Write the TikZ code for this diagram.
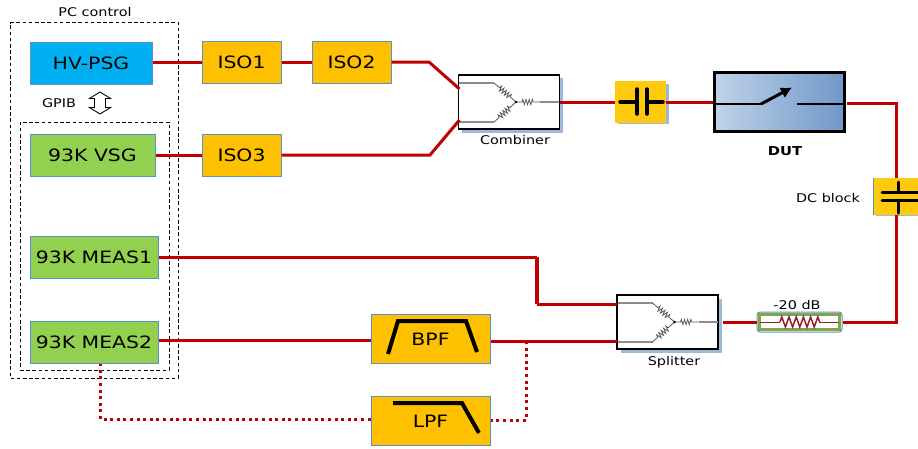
\documentclass[tikz,border=0pt]{standalone}
\usepackage{fontspec}
\setmainfont[FakeStretch=1.2]{DejaVu Sans}
\usetikzlibrary{decorations.pathmorphing,calc,arrows.meta}
\definecolor{lnk}{HTML}{C00000}
\definecolor{edge}{HTML}{5B8FCB}
\definecolor{org}{HTML}{FFC000}
\definecolor{capy}{HTML}{FFC90E}
\definecolor{grn}{HTML}{92D050}
\definecolor{cyn}{HTML}{00B0F0}
\definecolor{shad}{HTML}{9DB9DA}
\definecolor{dutl}{RGB}{192,211,233}
\definecolor{dutr}{RGB}{112,152,200}
\definecolor{attg}{RGB}{130,165,70}
\definecolor{attr}{RGB}{150,30,40}
\tikzset{
  box/.style={draw=edge,line width=1pt,inner sep=0pt,font=\fontsize{17}{18}\selectfont},
  instr/.style={box,minimum height=42pt},
  iso/.style={box,fill=org,minimum width=79pt,minimum height=42pt},
  filt/.style={box,fill=org,minimum width=119pt,minimum height=49pt},
  lbl/.style={font=\fontsize{12}{13}\selectfont,inner sep=0pt},
  rf/.style={draw=lnk,line width=3pt},
  rfdot/.style={draw=lnk,line width=3pt,dash pattern=on 3pt off 3.6pt},
  ctl/.style={draw=black,line width=.9pt,dash pattern=on 3.6pt off 2.6pt},
  net/.style={draw=black,line width=1.4pt,fill=white,minimum width=101pt,minimum height=54pt,inner sep=0pt},
  sym/.style={draw=black,line width=4pt,line join=miter},
  gray wire/.style={draw=black!45,line width=1.1pt},
  res/.style={draw=black!65,line width=.8pt,decorate,decoration={zigzag,amplitude=2.6pt,segment length=3.2pt,pre length=7pt,post length=7pt}},
  hybrid/.pic={
    \draw[gray wire] (-50,-19) -- (-15,-19);
    \draw[gray wire] (-50,20) -- (-15,20);
    \draw[res] (-15,-19) -- (7,0);
    \draw[res] (-15,20) -- (7,0);
    \draw[res,decoration={pre length=6pt,post length=6pt}] (7,0) -- (31,0);
    \draw[gray wire] (31,0) -- (50,0);
    \fill (7,0) circle (1.4pt);
  }
}
\begin{document}
\begin{tikzpicture}[x=1pt,y=-1pt]
\useasboundingbox (0,0) rectangle (918,448);
% control groups
\node[ctl,minimum width=168pt,minimum height=355.5pt,inner sep=0pt] (pc) at (94.5,200.25) {};
\node[ctl,minimum width=149pt,minimum height=248pt,inner sep=0pt] (inner) at (94.5,246) {};
\node[lbl] (pclabel) at (95,12) {PC control};
\node[lbl] (gpib) at (59,103) {GPIB};
\draw[line width=.9pt,fill=white] (100,92) -- (110.5,98.5) -- (105.5,98.5) -- (105.5,107.5) -- (110.5,107.5) -- (100,114) -- (89.5,107.5) -- (94.5,107.5) -- (94.5,98.5) -- (89.5,98.5) -- cycle;
% instruments
\node[instr,fill=cyn,minimum width=122pt] (hv) at (91,63) {HV-PSG};
\node[instr,fill=grn,minimum width=125pt] (vsg) at (92.5,155) {93K VSG};
\node[instr,fill=grn,minimum width=128pt] (m1) at (94,257) {93K MEAS1};
\node[instr,fill=grn,minimum width=128pt] (m2) at (94,342) {93K MEAS2};
% isolators
\node[iso] (iso1) at (241.5,62) {ISO1};
\node[iso] (iso2) at (351.5,62) {ISO2};
\node[iso] (iso3) at (241.5,155) {ISO3};
% combiner
\fill[shad] (462,78) rectangle (563,133);
\node[net] (comb) at (509,102) {};
\pic at (509,102) {hybrid};
\node[lbl] (comblabel) at (515,140) {Combiner};
\coordinate (combA) at (459.5,89);
\coordinate (combB) at (459.5,120);
% coupling cap
\fill[shad] (618,84) rectangle (669,124);
\node[fill=capy,minimum width=51pt,minimum height=42pt,inner sep=0pt] (cap1) at (640.5,102) {};
\draw[line width=3.5pt,line cap=round] (620,102) -- (637,102) (637,89) -- (637,114) (647,89) -- (647,114) (647,102) -- (663,102);
% DUT
\node[draw=black,line width=3pt,left color=dutl,right color=dutr,minimum width=130pt,minimum height=59pt,inner sep=0pt] (dut) at (779,102) {};
\draw[line width=2.8pt] (714,104) -- (761,104) (797,104) -- (844,104);
\draw[line width=3pt,-{Latex[length=11pt,width=12pt]}] (761,104) -- (792,87.5);
\node[font=\bfseries\fontsize{12.3}{13}\selectfont,inner sep=0pt] (dutlabel) at (785,151) {DUT};
% DC block
\fill[shad] (876,182) rectangle (918,216);
\node[fill=capy,minimum width=45pt,minimum height=37pt,inner sep=0pt] (cap2) at (895.5,196.5) {};
\draw[edge,line width=1pt] (873,178) -- (873,215);
\draw[line width=3pt,line cap=round] (898,182) -- (898,192) (882,192) -- (918,192) (882,200) -- (918,200) (898,200) -- (898,213);
\node[lbl] (dclabel) at (828,198.5) {DC block};
% attenuator
\node[draw=edge,line width=1pt,rounded corners=3pt,inner sep=0pt,minimum width=85pt,minimum height=20pt] (att) at (799.5,322) {};
\draw[attg,line width=2.6pt] (759.5,314.5) rectangle (839.5,329.5);
\draw[attr,line width=1pt] (760,322) -- (780,322) (820,322) -- (839,322);
\draw[attr,line width=1.5pt,decorate,decoration={zigzag,amplitude=5pt,segment length=7.2pt}] (780,322) -- (820,322);
\node[lbl] (attlabel) at (797,305.5) {-20 dB};
% splitter
\fill[shad] (621,299) rectangle (722,353);
\node[net] (split) at (667.5,322) {};
\pic at (667.5,322) {hybrid};
\node[lbl] (splitlabel) at (674,362) {Splitter};
\coordinate (splitA) at (617,304);
\coordinate (splitB) at (617,341);
\coordinate (splitOut) at (723,322);
% filters
\node[filt] (bpf) at (430.5,339) {BPF};
\node[filt] (lpf) at (430.5,421) {LPF};
\draw[sym] (388,354) -- (398,321) -- (466,321) -- (477,352);
\draw[sym] (393,403) -- (462,403) -- (479,433);
% junction coordinates
\coordinate (hvOut) at ($(hv.east)+(0,-1)$);
\coordinate (m2Out) at ($(m2.east)+(0,-2)$);
\coordinate (bpfIn) at ($(bpf.west)+(0,1)$);
\coordinate (bpfOut) at ($(bpf.east)+(0,2)$);
\coordinate (lpfIn) at ($(lpf.west)+(0,-2)$);
\coordinate (lpfOut) at ($(lpf.east)+(0,-1)$);
\coordinate (dutOut) at (847,103);
\coordinate (rightTop) at (896.5,103);
\coordinate (dcTop) at (896.5,178);
\coordinate (dcBot) at (896.5,215);
\coordinate (rightBot) at (896.5,322);
\coordinate (m1turn) at (537,257);
\coordinate (m1low) at (537,304);
\coordinate (tap) at (526,341);
\coordinate (tapLow) at (526,420);
\coordinate (dotLeft) at (100,419);
\coordinate (dotTop) at (100,364);
% connectors
\draw[rf] (hvOut) -- (iso1.west);
\draw[rf] (iso1.east) -- (iso2.west);
\draw[rf] (iso2.east) -- (429,62) -- (combA);
\draw[rf] (vsg.east) -- (iso3.west);
\draw[rf] (iso3.east) -- (430,155) -- (combB);
\draw[rf] (comb.east) -- (cap1.west);
\draw[rf] (cap1.east) -- (dut.west);
\draw[rf] (dutOut) -- (rightTop) -- (dcTop);
\draw[rf] (dcBot) -- (rightBot) -- (att.east);
\draw[rf] (att.west) -- (splitOut);
\draw[rf] (m1.east) -- (m1turn);
\draw[rf,line width=4pt] (m1turn) -- (m1low);
\draw[rf] (m1low) -- (splitA);
\draw[rf] (m2Out) -- (bpfIn);
\draw[rf] (bpfOut) -- (splitB);
\draw[rfdot] (tap) -- (tapLow) -- (lpfOut);
\draw[rfdot] (lpfIn) -- (dotLeft) -- (dotTop);
\end{tikzpicture}
\end{document}
